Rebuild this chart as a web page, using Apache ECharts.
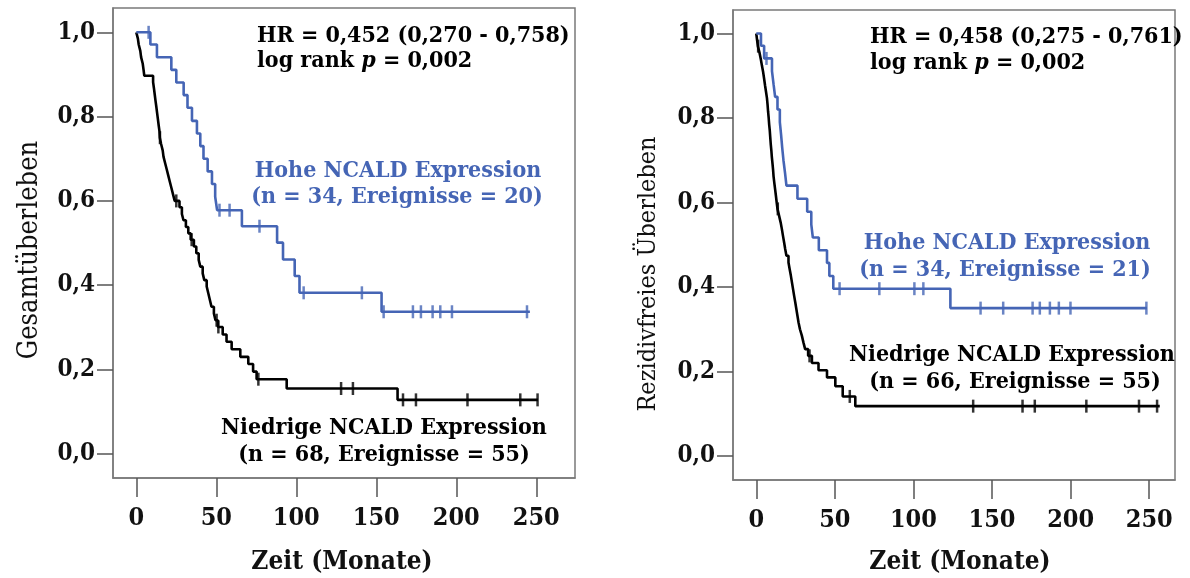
<!DOCTYPE html>
<html>
<head>
<meta charset="utf-8">
<script src="https://cdn.jsdelivr.net/npm/echarts@6/dist/echarts.min.js"></script>
<style>
  html, body { margin: 0; padding: 0; background: #ffffff; }
  #chart { width: 1190px; height: 578px; }
</style>
</head>
<body>
<div id="chart"></div>
<script>
// Kaplan-Meier curves: [time in months, survival after the event]
const osHighSteps = [[0,1],[8.8,0.971],[12.9,0.941],[21.9,0.911],[25,0.881],[29.6,0.851],[32,0.821],[34.8,0.790],[37.9,0.760],[40,0.730],[42,0.700],[44.6,0.670],[47.3,0.640],[49.3,0.610],[50.5,0.578],[66,0.540],[88,0.501],[91.7,0.461],[99,0.422],[102,0.382],[153.3,0.337]];
const osHighCensored = [7.7, 52, 58.3, 77, 104.6, 141, 154.6, 172.9, 177.9, 185.2, 190, 197.3, 244.2];
const osHighEnd = 246;

const osLowSteps = [[0,1],[1,0.985],[1.5,0.971],[2.5,0.956],[3,0.941],[4,0.926],[4.5,0.912],[5,0.897],[10.5,0.882],[11,0.868],[11.5,0.853],[12,0.838],[12.5,0.824],[13,0.809],[13.5,0.794],[14,0.779],[14.5,0.765],[14.7,0.750],[15.5,0.735],[16.5,0.720],[17,0.705],[18,0.690],[19,0.675],[20,0.660],[21,0.645],[22,0.630],[23,0.615],[24,0.600],[27,0.585],[28.5,0.569],[29.5,0.554],[31,0.538],[32.5,0.523],[34,0.508],[36,0.492],[37.5,0.476],[39,0.460],[40,0.444],[41.5,0.428],[42.5,0.412],[44,0.397],[45,0.381],[46,0.365],[47,0.349],[48.5,0.333],[49.5,0.317],[51,0.301],[54,0.283],[56.4,0.266],[59.6,0.248],[65,0.230],[70,0.213],[73,0.195],[75.2,0.177],[94,0.155],[163.3,0.128]];
const osLowCensored = [14.8, 25, 34.6, 50.2, 51.3, 76.3, 128, 135.4, 166.7, 174.8, 207, 240, 250.8];
const osLowEnd = 251;

const rfsHighSteps = [[0,1],[3,0.971],[5,0.941],[10,0.911],[11,0.880],[12,0.850],[13.5,0.820],[15,0.790],[15.8,0.760],[16.5,0.730],[17.3,0.700],[18.3,0.670],[19.2,0.640],[26.2,0.609],[32.4,0.578],[35,0.548],[36,0.517],[39.8,0.487],[45,0.457],[46.5,0.426],[49,0.396],[123.5,0.350]];
const rfsHighCensored = [6.5, 53, 78.3, 100.6, 106.3, 142.7, 157.1, 175.8, 180.4, 186.8, 192.5, 199.9, 248.2];
const rfsHighEnd = 248.5;

const rfsLowSteps = [[0,1],[0.5,0.985],[1,0.970],[2.1,0.954],[2.9,0.939],[3.6,0.924],[4.4,0.908],[5.0,0.893],[5.6,0.877],[6.2,0.862],[6.8,0.847],[7.2,0.831],[7.5,0.816],[7.9,0.800],[8.2,0.785],[8.6,0.770],[8.9,0.754],[9.2,0.739],[9.6,0.723],[9.9,0.708],[10.3,0.693],[10.7,0.677],[11.0,0.662],[11.5,0.646],[12.0,0.631],[12.5,0.616],[13.0,0.600],[13.5,0.585],[14.5,0.569],[15.5,0.553],[16.3,0.537],[17.0,0.521],[17.7,0.506],[18.4,0.490],[19.2,0.474],[20.5,0.458],[21.2,0.443],[22.0,0.427],[22.7,0.411],[23.4,0.395],[24.1,0.379],[24.8,0.364],[25.5,0.348],[26.2,0.332],[26.9,0.316],[27.8,0.300],[29.0,0.285],[30.0,0.269],[31.1,0.253],[33.0,0.237],[35.4,0.220],[39.6,0.203],[45,0.186],[50.3,0.165],[55,0.141],[63,0.118]];
const rfsLowCensored = [1.2, 13.7, 33.9, 59.5, 138, 169.4, 177.2, 210, 243.5, 255];
const rfsLowEnd = 256.7;

const xTicks = [0, 50, 100, 150, 200, 250];
const yTicks = [0, 0.2, 0.4, 0.6, 0.8, 1.0];

const BLUE = '#4565b5';
const BLACK = '#000000';
const FONT = "'DejaVu Serif Condensed', 'DejaVu Serif', serif";

// curve value at time t (value after any event at t)
function survivalAt(steps, t) {
  let s = steps[0][1];
  for (const [st, sv] of steps) { if (st <= t) s = sv; else break; }
  return s;
}
function curve(steps, end) {
  return steps.concat([[end, steps[steps.length - 1][1]]]);
}
function ticks(steps, times) {
  return times.map(t => [t, survivalAt(steps, t)]);
}

function xAxis(idx, min, max) {
  return {
    type: 'value', gridIndex: idx, min: min, max: max,
    axisLine: { show: true, onZero: false, lineStyle: { color: '#7a7a7a', width: 1.5 } },
    axisTick: { show: true, length: 19, customValues: xTicks, lineStyle: { color: '#555555', width: 1.5 } },
    axisLabel: { customValues: xTicks, margin: 28, color: '#111', fontSize: 25, fontWeight: 'bold', fontFamily: FONT },
    splitLine: { show: false }
  };
}
function yAxis(idx, min, max) {
  return {
    type: 'value', gridIndex: idx, min: min, max: max,
    axisLine: { show: true, onZero: false, lineStyle: { color: '#7a7a7a', width: 1.5 } },
    axisTick: { show: true, length: 16, customValues: yTicks, lineStyle: { color: '#555555', width: 1.5 } },
    axisLabel: { customValues: yTicks, margin: 18, color: '#111', fontSize: 24, fontWeight: 'bold', fontFamily: FONT,
      formatter: v => v.toFixed(1).replace('.', ',') },
    splitLine: { show: false }
  };
}
function lineSeries(idx, steps, end, color) {
  return {
    type: 'line', xAxisIndex: idx, yAxisIndex: idx, step: 'end', data: curve(steps, end),
    showSymbol: false, symbol: 'none', silent: true, animation: false,
    lineStyle: { color: color, width: 2.6 }
  };
}
function censorSeries(idx, steps, times, color) {
  return {
    type: 'scatter', xAxisIndex: idx, yAxisIndex: idx, data: ticks(steps, times),
    symbol: 'rect', symbolSize: [2.5, 13], silent: true, animation: false,
    itemStyle: { color: color }
  };
}
function txt(x, y, text, color, align, size, extra) {
  return Object.assign({
    type: 'text', x: x, y: y, silent: true,
    style: { text: text, fill: color, textAlign: align, textVerticalAlign: 'middle',
      font: 'bold ' + size + 'px ' + FONT }
  }, extra || {});
}
function vTitle(x, y, text, size) {
  return {
    type: 'text', x: x, y: y, rotation: Math.PI / 2, silent: true,
    style: { text: text, fill: '#111', textAlign: 'center', textVerticalAlign: 'middle',
      font: size + 'px ' + FONT }
  };
}
function pText(x, y, value) {
  return {
    type: 'text', x: x, y: y, silent: true,
    style: {
      text: '{a|log rank }{b|p}{a| = ' + value + '}',
      textAlign: 'left', textVerticalAlign: 'middle',
      rich: {
        a: { fill: '#000', fontSize: 23, fontWeight: 'bold', fontFamily: FONT },
        b: { fill: '#000', fontSize: 23, fontWeight: 'bold', fontStyle: 'italic', fontFamily: FONT }
      }
    }
  };
}

const chart = echarts.init(document.getElementById('chart'), null, { renderer: 'canvas' });
chart.setOption({
  animation: false,
  backgroundColor: '#ffffff',
  grid: [
    { left: 113, top: 8, width: 462, height: 470, show: true, borderColor: '#7a7a7a', borderWidth: 1.5, containLabel: false },
    { left: 733, top: 10, width: 442, height: 470, show: true, borderColor: '#7a7a7a', borderWidth: 1.5, containLabel: false }
  ],
  xAxis: [xAxis(0, -14.56, 274.2), xAxis(1, -14.8, 266.4)],
  yAxis: [yAxis(0, -0.0574, 1.0577), yAxis(1, -0.0568, 1.0556)],
  series: [
    lineSeries(0, osLowSteps, osLowEnd, BLACK),
    lineSeries(0, osHighSteps, osHighEnd, BLUE),
    censorSeries(0, osLowSteps, osLowCensored, BLACK),
    censorSeries(0, osHighSteps, osHighCensored, BLUE),
    lineSeries(1, rfsLowSteps, rfsLowEnd, BLACK),
    lineSeries(1, rfsHighSteps, rfsHighEnd, BLUE),
    censorSeries(1, rfsLowSteps, rfsLowCensored, BLACK),
    censorSeries(1, rfsHighSteps, rfsHighCensored, BLUE)
  ],
  graphic: [
    // left panel: overall survival
    txt(257, 36, 'HR = 0,452 (0,270 - 0,758)', '#000', 'left', 23),
    pText(257, 61, '0,002'),
    txt(398, 171, 'Hohe NCALD Expression', BLUE, 'center', 23),
    txt(397, 197, '(n = 34, Ereignisse = 20)', BLUE, 'center', 23),
    txt(384, 428, 'Niedrige NCALD Expression', '#000', 'center', 23),
    txt(384, 455, '(n = 68, Ereignisse = 55)', '#000', 'center', 23),
    txt(342, 562, 'Zeit (Monate)', '#111', 'center', 26),
    vTitle(30, 250, 'Gesamtüberleben', 27),
    // right panel: recurrence-free survival
    txt(870, 37, 'HR = 0,458 (0,275 - 0,761)', '#000', 'left', 23),
    pText(870, 63, '0,002'),
    txt(1007, 243, 'Hohe NCALD Expression', BLUE, 'center', 23),
    txt(1005, 270, '(n = 34, Ereignisse = 21)', BLUE, 'center', 23),
    txt(1012, 355, 'Niedrige NCALD Expression', '#000', 'center', 23),
    txt(1015, 382, '(n = 66, Ereignisse = 55)', '#000', 'center', 23),
    txt(960, 562, 'Zeit (Monate)', '#111', 'center', 26),
    vTitle(648, 274, 'Rezidivfreies Überleben', 25)
  ]
});
</script>
</body>
</html>
